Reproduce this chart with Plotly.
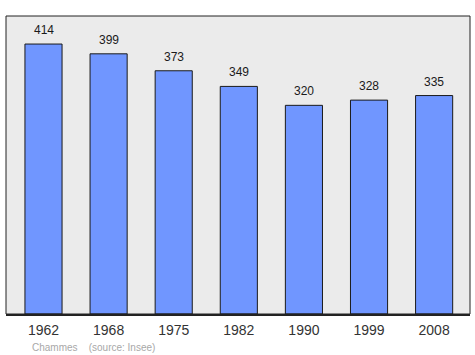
import plotly.graph_objects as go

years = ["1962", "1968", "1975", "1982", "1990", "1999", "2008"]
population = [414, 399, 373, 349, 320, 328, 335]

xs = list(range(len(years)))

fig = go.Figure()
fig.add_trace(go.Bar(
    x=xs, y=population, width=0.57,
    marker=dict(color="#7096ff", line=dict(color="#1a1a1a", width=1)),
    hoverinfo="skip",
))

for x, v in zip(xs, population):
    fig.add_annotation(x=x, y=v, text=str(v), showarrow=False, yshift=14,
                       yanchor="middle", font=dict(family="Liberation Sans, Arial", size=12, color="#1a1a1a"))

fig.add_annotation(xref="paper", yref="paper", x=0.052, y=-0.112, xanchor="left", yanchor="middle",
                   text="Chammes    (source: Insee)", showarrow=False,
                   font=dict(family="Liberation Sans, Arial", size=10, color="#a8a8a8"))

fig.add_shape(type="rect", xref="paper", yref="paper", x0=0, y0=0, x1=1, y1=1,
              line=dict(color="#222", width=1), layer="above")

fig.update_layout(
    width=475, height=355,
    margin=dict(l=6, r=5, t=16, b=41),
    paper_bgcolor="white", plot_bgcolor="#ebebeb",
    showlegend=False,
    xaxis=dict(range=[-0.576, 6.551], tickvals=xs, ticktext=years, showgrid=False, zeroline=False,
               showline=True, linecolor="#222", linewidth=2, ticks="", ticklabelstandoff=2,
               tickfont=dict(family="Liberation Sans, Arial", size=14, color="#333"), fixedrange=True),
    yaxis=dict(range=[0, 457], showgrid=False, zeroline=False, showticklabels=False, ticks="", fixedrange=True),
)

fig.write_html("out.html")
